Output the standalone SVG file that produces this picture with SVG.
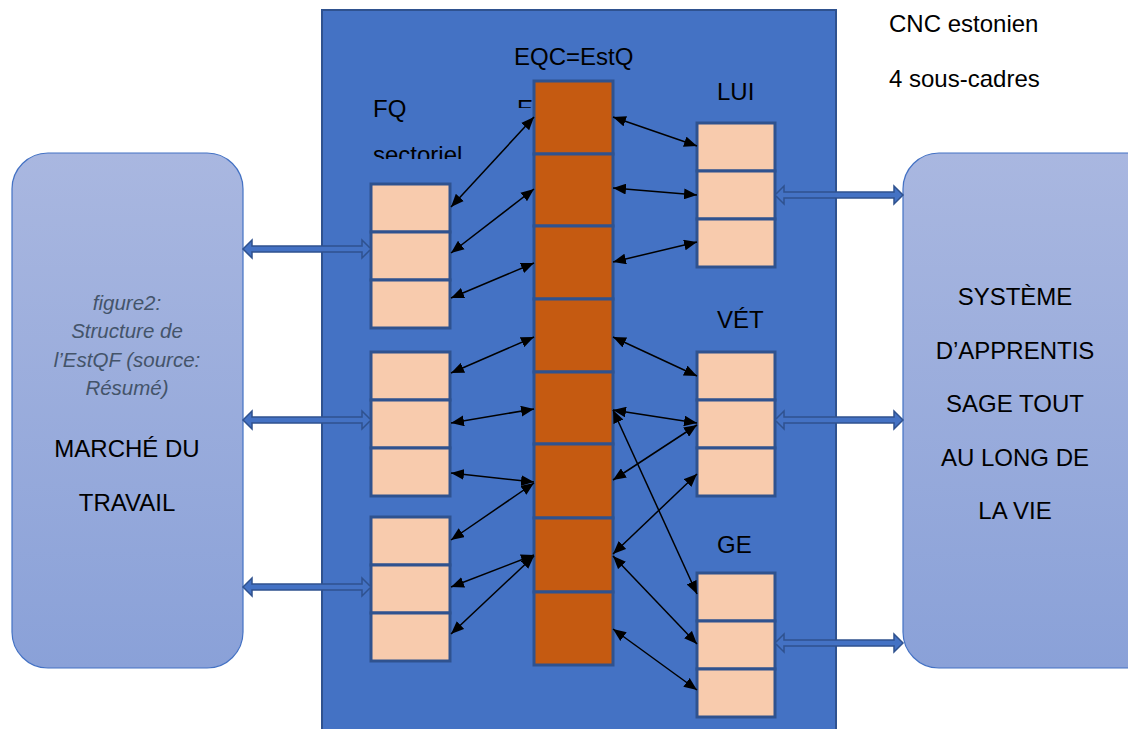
<svg xmlns="http://www.w3.org/2000/svg" width="1128" height="729" viewBox="0 0 1128 729">
<style>
.t{font-family:"Liberation Sans",Arial,sans-serif;font-size:24px;fill:#000}
.c{text-anchor:middle}
.cap{font-family:"Liberation Sans",Arial,sans-serif;font-size:20.5px;font-style:italic;fill:#44546A;text-anchor:middle}
.side{stroke:#4472C4;stroke-width:1.2}
.eqc{fill:#C55A11;stroke:#2F528F;stroke-width:3}
.sub{fill:#F8CBAD;stroke:#2F528F;stroke-width:3}
.blk{fill:#4472C4;stroke:#2F528F;stroke-width:1.5}
.ln{stroke:#000;stroke-width:1.5;fill:none;marker-start:url(#ah);marker-end:url(#ah)}
</style>
<defs>
<linearGradient id="g" x1="0" y1="0" x2="0" y2="1">
<stop offset="0" stop-color="#A9B7E0"/>
<stop offset="1" stop-color="#8AA1D8"/>
</linearGradient>
<marker id="ah" viewBox="0 0 12 10" refX="12" refY="5" markerWidth="13" markerHeight="11" markerUnits="userSpaceOnUse" orient="auto-start-reverse">
<path d="M0,0 L12,5 L0,10 z" fill="#000"/>
</marker>
<clipPath id="cs"><rect x="360" y="140" width="140" height="19"/></clipPath>
<clipPath id="ce"><rect x="510" y="95" width="24" height="13"/></clipPath>
</defs>
<rect width="1128" height="729" fill="#fff"/>

<g id="cnc-frame">
<rect x="322" y="10" width="514" height="730" fill="#4472C4" stroke="#2F528F" stroke-width="2"/>
</g>

<g id="marche-travail">
<rect class="side" x="12" y="153" width="231" height="515" rx="36" fill="url(#g)"/>
<text class="cap" x="127" y="310">figure2:</text>
<text class="cap" x="127" y="338">Structure de</text>
<text class="cap" x="127" y="367">l’EstQF (source:</text>
<text class="cap" x="127" y="395">Résumé)</text>
<text class="t c" x="127" y="457">MARCHÉ DU</text>
<text class="t c" x="127" y="511">TRAVAIL</text>
</g>

<g id="systeme-apprentissage">
<rect class="side" x="903" y="153" width="260" height="515" rx="36" fill="url(#g)"/>
<text class="t c" x="1015" y="305">SYSTÈME</text>
<text class="t c" x="1015" y="359">D’APPRENTIS</text>
<text class="t c" x="1015" y="412">SAGE TOUT</text>
<text class="t c" x="1015" y="466">AU LONG DE</text>
<text class="t c" x="1015" y="519">LA VIE</text>
</g>

<g id="labels">
<text class="t" x="889" y="32">CNC estonien</text>
<text class="t" x="889" y="87">4 sous-cadres</text>
<text class="t" x="514" y="65">EQC=EstQ</text>
<text class="t" x="373" y="117">FQ</text>
<text class="t" x="373" y="163" clip-path="url(#cs)">sectoriel</text>
<text class="t" x="517" y="117" clip-path="url(#ce)">E</text>
<text class="t" x="717" y="100">LUI</text>
<text class="t" x="717" y="328">VÉT</text>
<text class="t" x="717" y="553">GE</text>
</g>

<g id="eqc-column">
<rect class="eqc" x="534" y="81" width="79" height="73"/>
<rect class="eqc" x="534" y="154" width="79" height="72"/>
<rect class="eqc" x="534" y="226" width="79" height="73"/>
<rect class="eqc" x="534" y="299" width="79" height="73"/>
<rect class="eqc" x="534" y="372" width="79" height="72"/>
<rect class="eqc" x="534" y="444" width="79" height="74"/>
<rect class="eqc" x="534" y="518" width="79" height="74"/>
<rect class="eqc" x="534" y="592" width="79" height="73"/>
</g>

<g id="fq-1">
<rect class="sub" x="371" y="184" width="79" height="48"/>
<rect class="sub" x="371" y="232" width="79" height="48"/>
<rect class="sub" x="371" y="280" width="79" height="48"/>
</g>
<g id="fq-2">
<rect class="sub" x="371" y="352" width="79" height="48"/>
<rect class="sub" x="371" y="400" width="79" height="48"/>
<rect class="sub" x="371" y="448" width="79" height="48"/>
</g>
<g id="fq-3">
<rect class="sub" x="371" y="517" width="79" height="48"/>
<rect class="sub" x="371" y="565" width="79" height="48"/>
<rect class="sub" x="371" y="613" width="79" height="48"/>
</g>
<g id="lui">
<rect class="sub" x="697" y="123" width="78" height="48"/>
<rect class="sub" x="697" y="171" width="78" height="48"/>
<rect class="sub" x="697" y="219" width="78" height="48"/>
</g>
<g id="vet">
<rect class="sub" x="697" y="352" width="78" height="48"/>
<rect class="sub" x="697" y="400" width="78" height="48"/>
<rect class="sub" x="697" y="448" width="78" height="48"/>
</g>
<g id="ge">
<rect class="sub" x="697" y="573" width="78" height="48"/>
<rect class="sub" x="697" y="621" width="78" height="48"/>
<rect class="sub" x="697" y="669" width="78" height="48"/>
</g>

<g id="connectors">
<polygon class="blk" points="243,249 252,240 252,246 362,246 362,240 371,249 362,258 362,252 252,252 252,258"/>
<polygon class="blk" points="243,420 252,411 252,417 362,417 362,411 371,420 362,429 362,423 252,423 252,429"/>
<polygon class="blk" points="243,587 252,578 252,584 362,584 362,578 371,587 362,596 362,590 252,590 252,596"/>
<polygon class="blk" points="775,195 784,186 784,192 894,192 894,186 903,195 894,204 894,198 784,198 784,204"/>
<polygon class="blk" points="775,420 784,411 784,417 894,417 894,411 903,420 894,429 894,423 784,423 784,429"/>
<polygon class="blk" points="775,643 784,634 784,640 894,640 894,634 903,643 894,652 894,646 784,646 784,652"/>

<line class="ln" x1="451" y1="207" x2="534" y2="117"/>
<line class="ln" x1="451" y1="253" x2="534" y2="189"/>
<line class="ln" x1="451" y1="298" x2="534" y2="263"/>
<line class="ln" x1="451" y1="373" x2="534" y2="337"/>
<line class="ln" x1="451" y1="423" x2="534" y2="409"/>
<line class="ln" x1="451" y1="473" x2="534" y2="482"/>
<line class="ln" x1="451" y1="540" x2="534" y2="483"/>
<line class="ln" x1="451" y1="587" x2="534" y2="555"/>
<line class="ln" x1="451" y1="634" x2="534" y2="556"/>

<line class="ln" x1="613" y1="117" x2="697" y2="146"/>
<line class="ln" x1="613" y1="188" x2="697" y2="195"/>
<line class="ln" x1="613" y1="262" x2="697" y2="242"/>
<line class="ln" x1="613" y1="337" x2="697" y2="376"/>
<line class="ln" x1="613" y1="410" x2="697" y2="423"/>
<line class="ln" x1="697" y1="425" x2="613" y2="480"/>
<line class="ln" x1="697" y1="474" x2="613" y2="554"/>
<line class="ln" x1="613" y1="410" x2="697" y2="594"/>
<line class="ln" x1="613" y1="556" x2="697" y2="644"/>
<line class="ln" x1="613" y1="629" x2="697" y2="690"/>
</g>
</svg>
